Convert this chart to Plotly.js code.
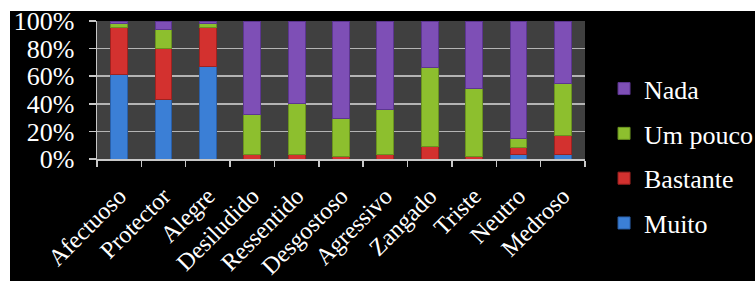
<!DOCTYPE html>
<html>
<head>
<meta charset="utf-8">
<script src="https://cdn.plot.ly/plotly-3.0.1.min.js"></script>
<style>
html,body{margin:0;padding:0;background:#ffffff;width:755px;height:281px;overflow:hidden;}
#bg{position:absolute;left:10px;top:11px;width:745px;height:270px;background:#000000;}
#chart{position:absolute;left:0;top:0;width:780px;height:281px;}
</style>
</head>
<body>
<div id="bg"></div>
<div id="chart"></div>
<script>
const categories = ["Afectuoso","Protector","Alegre","Desiludido","Ressentido","Desgostoso","Agressivo","Zangado","Triste","Neutro","Medroso"];
const muito    = [61, 43, 67, 0, 0, 0, 0, 0, 0, 3, 3];
const bastante = [34, 37, 28, 3, 3, 2, 3, 9, 2, 5, 14];
const umPouco  = [3, 14, 3, 29, 37, 27, 33, 57, 49, 7, 38];
const nada     = [2, 6, 2, 68, 60, 71, 64, 34, 49, 85, 45];
const yTicks = [0, 20, 40, 60, 80, 100];
const yTickLabels = ["0%","20%","40%","60%","80%","100%"];

const seriesNames = ["Muito","Bastante","Um pouco","Nada"];
const seriesData = [muito, bastante, umPouco, nada];
const colors = ["#3b7fd6","#d3312f","#8dbf2e","#7e4fb6"];
const lineColors = ["#2a5fa8","#9e2220","#6a9220","#5c3690"];

const traces = seriesNames.map((n, i) => ({
  type: "bar",
  name: n,
  x: categories,
  y: seriesData[i],
  legendgroup: "g" + i,
  legendrank: 4 - i,
  marker: {color: colors[i], line: {color: lineColors[i], width: 1}},
  hoverinfo: "x+y+name"
}));

const font = "Liberation Serif";
const layout = {
  width: 780, height: 281,
  margin: {l: 97, r: 195, t: 20.5, b: 122, pad: 0},
  paper_bgcolor: "rgba(0,0,0,0)",
  plot_bgcolor: "#404040",
  barmode: "stack",
  bargap: 0.62,
  font: {family: font, color: "#ffffff", size: 20},
  showlegend: true,
  legend: {
    x: 1.039, xanchor: "left", y: 0.68, yanchor: "top",
    maxheight: 270,
    traceorder: "grouped", tracegroupgap: 8,
    font: {family: font, size: 26, color: "#ffffff"},
    bgcolor: "rgba(0,0,0,0)"
  },
  xaxis: {
    type: "category",
    tickangle: -45,
    tickfont: {family: font, size: 24, color: "#ffffff"},
    ticks: "outside", tickson: "boundaries", ticklen: 6, tickcolor: "#c8c8c8", tickwidth: 1.5,
    ticklabelstandoff: 12,
    showline: true, linecolor: "#c8c8c8", linewidth: 1.5,
    showgrid: false, fixedrange: true
  },
  yaxis: {
    range: [0, 100],
    tickvals: yTicks, ticktext: yTickLabels,
    tickfont: {family: font, size: 26, color: "#ffffff"},
    ticks: "outside", ticklen: 7, tickcolor: "#c8c8c8", tickwidth: 1.5,
    ticklabelstandoff: 9,
    showline: true, linecolor: "#c8c8c8", linewidth: 1.5,
    showgrid: true, gridcolor: "#b4b4b4", gridwidth: 1.5,
    zeroline: false, fixedrange: true
  }
};

Plotly.newPlot("chart", traces, layout, {displayModeBar: false, staticPlot: true});
</script>
</body>
</html>
